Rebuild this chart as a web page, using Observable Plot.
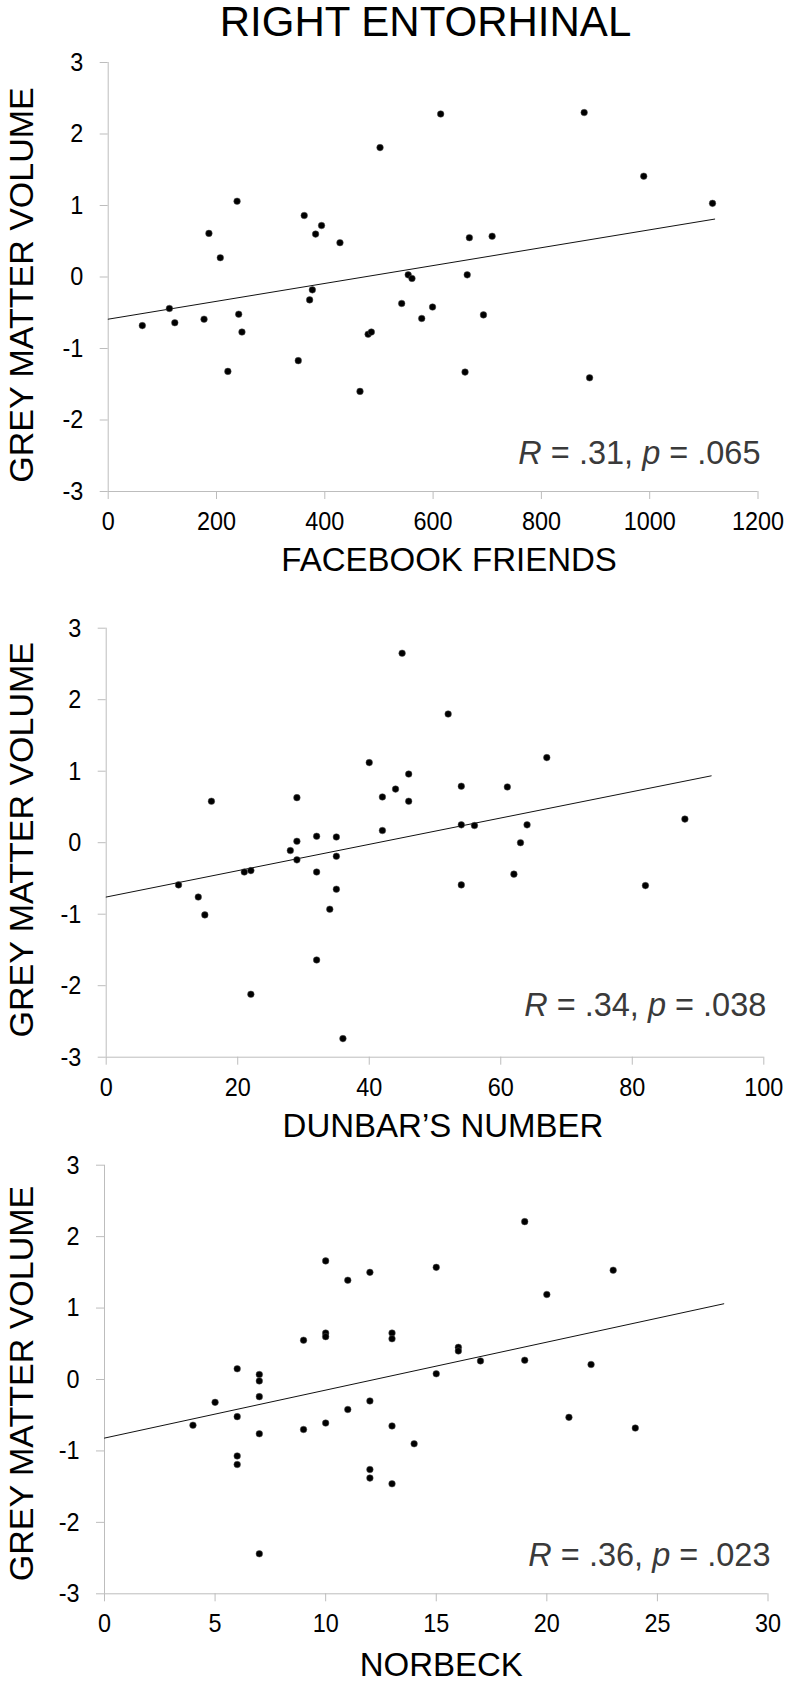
<!DOCTYPE html>
<html>
<head>
<meta charset="utf-8">
<script src="https://cdn.jsdelivr.net/npm/d3@7"></script>
<script src="https://cdn.jsdelivr.net/npm/@observablehq/plot@0.6"></script>
<style>
  html, body { margin: 0; padding: 0; background: #fff; }
  body { width: 800px; }
  #title {
    height: 50px; line-height: 43px; text-align: center; padding-left: 51px; box-sizing: border-box;
    font-family: "Liberation Sans", Arial, sans-serif; font-size: 42px; color: #000; white-space: nowrap;
  }
  svg { display: block; }
</style>
</head>
<body>
<div id="title">RIGHT ENTORHINAL</div>
<div id="charts"></div>
<script>
// ---------- data ----------
const yTicks = [-3, -2, -1, 0, 1, 2, 3];
const yLabel = "GREY MATTER VOLUME";

// Panel 1: Facebook friends
const fbTicks = [0, 200, 400, 600, 800, 1000, 1200];
const fbFriends = [63, 113, 123, 177, 186, 207, 221, 238, 241, 247, 351, 362, 372, 377, 383, 394, 428, 465, 480, 486, 502, 542, 554, 561, 579, 599, 614, 659, 663, 667, 693, 709, 879, 889, 989, 1116];
const fbGmv = [-0.68, -0.44, -0.64, -0.59, 0.61, 0.27, -1.32, 1.06, -0.52, -0.77, -1.17, 0.86, -0.32, -0.18, 0.60, 0.72, 0.48, -1.60, -0.80, -0.77, 1.81, -0.37, 0.03, -0.02, -0.58, -0.42, 2.28, -1.33, 0.03, 0.55, -0.53, 0.57, 2.30, -1.41, 1.41, 1.03];
const fbTrendX = [0, 1120];
const fbTrendY = [-0.59, 0.81];
const fbStat = ["R", " = .31, ", "p", " = .065"];

// Panel 2: Dunbar's number
const dunTicks = [0, 20, 40, 60, 80, 100];
const dunbar = [11, 14, 15, 16, 21, 22, 22, 28, 29, 29, 29, 32, 32, 32, 34, 35, 35, 35, 36, 40, 42, 42, 44, 45, 46, 46, 52, 54, 54, 54, 56, 61, 62, 63, 64, 67, 82, 88];
const dunGmv = [-0.59, -0.76, -1.01, 0.58, -0.41, -0.39, -2.12, -0.11, 0.63, 0.02, -0.24, 0.09, -0.41, -1.64, -0.93, 0.08, -0.19, -0.65, -2.74, 1.12, 0.64, 0.17, 0.75, 2.65, 0.96, 0.58, 1.80, 0.79, 0.25, -0.59, 0.24, 0.78, -0.44, 0.00, 0.25, 1.19, -0.60, 0.33];
const dunTrendX = [0, 92];
const dunTrendY = [-0.76, 0.935];
const dunStat = ["R", " = .34, ", "p", " = .038"];

// Panel 3: Norbeck
const norTicks = [0, 5, 10, 15, 20, 25, 30];
const norbeck = [4, 5, 6, 6, 6, 6, 7, 7, 7, 7, 7, 9, 9, 10, 10, 10, 10, 11, 11, 12, 12, 12, 12, 13, 13, 13, 13, 14, 15, 15, 16, 16, 17, 19, 19, 20, 21, 22, 23, 24];
const norGmv = [-0.64, -0.32, 0.15, -0.52, -1.07, -1.19, 0.07, -0.02, -0.24, -0.76, -2.44, 0.55, -0.70, 1.66, 0.65, 0.60, -0.61, 1.39, -0.42, 1.50, -0.30, -1.26, -1.38, 0.65, 0.57, -0.65, -1.46, -0.90, 1.57, 0.08, 0.45, 0.40, 0.26, 2.21, 0.27, 1.19, -0.53, 0.21, 1.53, -0.68];
const norTrendX = [0, 28];
const norTrendY = [-0.82, 1.06];
const norStat = ["R", " = .36, ", "p", " = .023"];

// ---------- drawing ----------
const TEXT_FONT = "'Liberation Sans', Arial, sans-serif";
const AXIS_GREY = "#bdbdbd";
const TICK_SCALE_X = 0.9;   // slightly narrower tick digits, like the reference

function panel(cfg) {
  const pts = cfg.xs.map((x, i) => ({x, y: cfg.ys[i]}));
  const trend = cfg.trendX.map((x, i) => ({x, y: cfg.trendY[i]}));
  const xDomain = [cfg.xTicks[0], cfg.xTicks[cfg.xTicks.length - 1]];
  const statText = cfg.stat.join("");
  const svg = Plot.plot({
    width: 800,
    height: cfg.height,
    marginTop: cfg.mt, marginBottom: cfg.mb, marginLeft: cfg.ml, marginRight: cfg.mr,
    x: {domain: xDomain},
    y: {domain: [yTicks[0], yTicks[yTicks.length - 1]]},
    style: {fontFamily: TEXT_FONT, background: "#fff", overflow: "visible", color: "#000"},
    marks: [
      Plot.axisY(yTicks, {tickSize: 8, tickPadding: 17, stroke: AXIS_GREY, fill: "#000", fontSize: 26, tickFormat: d => String(d), label: null}),
      Plot.axisX(cfg.xTicks, {tickSize: 8, tickPadding: 12, stroke: AXIS_GREY, fill: "#000", fontSize: 26, tickFormat: d => String(d), label: null}),
      Plot.ruleX([xDomain[0]], {stroke: AXIS_GREY}),
      Plot.ruleY([yTicks[0]], {stroke: AXIS_GREY}),
      Plot.line(trend, {x: "x", y: "y", stroke: "#111", strokeWidth: 1}),
      Plot.dot(pts, {x: "x", y: "y", r: 3.3, fill: "#000", stroke: "#555", strokeWidth: 0.5}),
      Plot.text([cfg.xLabel], {frameAnchor: "bottom", dx: cfg.labelDx, dy: cfg.labelDy, lineAnchor: "middle", fontSize: 33, fill: "#000"}),
      Plot.text([yLabel], {frameAnchor: "left", textAnchor: "middle", rotate: -90, dx: 22 - cfg.ml, dy: cfg.yLabelDy, lineAnchor: "middle", fontSize: 34, fill: "#000"}),
      Plot.text([statText], {frameAnchor: "bottom-right", textAnchor: "end", lineAnchor: "bottom", dx: 2.5, dy: cfg.statDy, fontSize: 32.5, fill: "#3a3a3a"})
    ]
  });
  const root = d3.select(svg);
  // narrow the tick digits a little
  root.selectAll("text").filter(function () {
    return /^-?\d+$/.test(this.textContent);
  }).attr("transform", function () {
    return (this.getAttribute("transform") || "") + ` scale(${TICK_SCALE_X},1)`;
  });
  // italicise R and p
  root.selectAll("text").filter(function () { return this.textContent === statText; })
    .each(function () {
      const t = d3.select(this);
      t.text(null);
      cfg.stat.forEach((s, i) => {
        t.append("tspan").attr("font-style", i % 2 === 0 ? "italic" : "normal").text(s);
      });
    });
  return svg;
}

const host = document.getElementById("charts");
host.appendChild(panel({
  xs: fbFriends, ys: fbGmv, trendX: fbTrendX, trendY: fbTrendY, xTicks: fbTicks,
  xLabel: "FACEBOOK FRIENDS", stat: fbStat,
  height: 540, mt: 12, mb: 99, ml: 107.7, mr: 42.5, labelDx: 16, labelDy: 69, statDy: -28, yLabelDy: 8
}));
host.appendChild(panel({
  xs: dunbar, ys: dunGmv, trendX: dunTrendX, trendY: dunTrendY, xTicks: dunTicks,
  xLabel: "DUNBAR\u2019S NUMBER", stat: dunStat,
  height: 540, mt: 37.7, mb: 73.3, ml: 105.7, mr: 36.7, labelDx: 8, labelDy: 69, statDy: -41.7, yLabelDy: -3
}));
host.appendChild(panel({
  xs: norbeck, ys: norGmv, trendX: norTrendX, trendY: norTrendY, xTicks: norTicks,
  xLabel: "NORBECK", stat: norStat,
  height: 554, mt: 34.7, mb: 90.7, ml: 104, mr: 32.5, labelDx: 5, labelDy: 72, statDy: -28, yLabelDy: 4
}));
</script>
</body>
</html>
